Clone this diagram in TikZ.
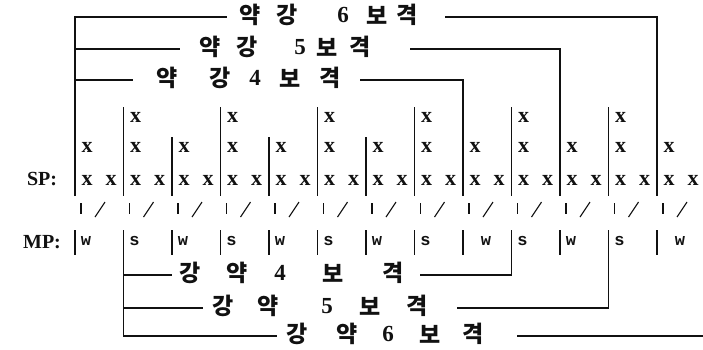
\documentclass[tikz,border=0pt]{standalone}
\usepackage{fontspec}
\usepackage{xcolor}
\usepackage{tikz}
\usetikzlibrary{positioning, calc}
\setmainfont{Liberation Serif}
\newfontfamily\krfont{Noto Sans CJK KR}
\newfontfamily\wsfont{Liberation Mono}
\definecolor{ink}{HTML}{111111}

\tikzset{
  rule/.style={draw=ink, line width=1.6pt},
  bar/.style={draw=ink, line width=1.5pt},
  tick/.style={draw=ink, line width=1.1pt},
  xmark/.style={text=ink, inner sep=0pt, font=\fontsize{22}{22}\bfseries\selectfont},
  kchar/.style={text=ink, inner sep=0pt, font=\krfont\fontsize{23}{23}\bfseries\selectfont},
  knum/.style={text=ink, inner sep=0pt, font=\fontsize{23}{23}\bfseries\selectfont},
  mpchar/.style={text=ink, inner sep=0pt, font=\wsfont\fontsize{17}{17}\bfseries\selectfont},
  rowtag/.style={text=ink, inner sep=0pt, font=\fontsize{20}{20}\bfseries\selectfont}
}

\begin{document}
\begin{tikzpicture}[x=1pt, y=-1pt]
    \useasboundingbox (0,0) rectangle (703,349);

    % row names
    \node[rowtag] (sp) at (42,179) {SP:};
    \node[rowtag] (mp) at (42,242) {MP:};

    % grid: one column per bar
    \foreach \k in {0,...,12} {
      \pgfmathsetmacro\x{75+48.5*\k}
      \coordinate (c\k) at (\x,0);
      \draw[bar] (\x,137) -- (\x,196);
      \draw[bar] (\x,230) -- (\x,255);
      \draw[tick] (\x+6,203) -- (\x+6,214);
      \draw[tick] (\x+20,217) -- (\x+30,202);
      \node[xmark] (m\k) at (\x+12,147) {x};
      \node[xmark] (s\k a) at (\x+12,180) {x};
      \node[xmark] (s\k b) at (\x+36,180) {x};
    }
    \foreach \k in {1,3,...,11} {
      \pgfmathsetmacro\x{75+48.5*\k}
      \draw[bar] (\x,107) -- (\x,137);
      \node[xmark] (h\k) at (\x+12,117) {x};
    }

    % MP letters
    \foreach \k/\l/\d in {0/w/11,1/s/11,2/w/11,3/s/11,4/w/11,5/s/11,6/w/11,
                          7/s/11,8/w/23,9/s/11,10/w/11,11/s/11,12/w/23}
      \node[mpchar] (p\k) at ($(c\k)+(\d,241)$) {\l};

    % upper brackets (iambic)
    \foreach \c/\x [count=\i] in {약/250,강/287,보/377,격/407}
      \node[kchar] (a6c\i) at (\x,15) {\c};
    \node[knum] (a6n) at (343,15) {6};
    \foreach \c/\x [count=\i] in {약/210,강/247,보/327,격/360}
      \node[kchar] (a5c\i) at (\x,47) {\c};
    \node[knum] (a5n) at (300,47) {5};
    \foreach \c/\x [count=\i] in {약/167,강/220,보/290,격/330}
      \node[kchar] (a4c\i) at (\x,78) {\c};
    \node[knum] (a4n) at (255,78) {4};

    \coordinate (a6w) at (227,17);
    \coordinate (a6e) at (445,17);
    \coordinate (a5w) at (180,49);
    \coordinate (a5e) at (410,49);
    \coordinate (a4w) at (133,80);
    \coordinate (a4e) at (360,80);

    \draw[rule] ($(c0)+(0,196)$) -- (c0 |- a6w) -- (a6w);
    \draw[rule] (c0 |- a5w) -- (a5w);
    \draw[rule] (c0 |- a4w) -- (a4w);
    \draw[rule] (a6e) -- (c12 |- a6e) -- ($(c12)+(0,196)$);
    \draw[rule] (a5e) -- (c10 |- a5e) -- ($(c10)+(0,196)$);
    \draw[rule] (a4e) -- (c8 |- a4e) -- ($(c8)+(0,196)$);

    % lower brackets (trochaic)
    \foreach \c/\x [count=\i] in {강/190,약/237,보/333,격/393}
      \node[kchar] (b4c\i) at (\x,273) {\c};
    \node[knum] (b4n) at (280,273) {4};
    \foreach \c/\x [count=\i] in {강/223,약/268,보/370,격/417}
      \node[kchar] (b5c\i) at (\x,306) {\c};
    \node[knum] (b5n) at (327,306) {5};
    \foreach \c/\x [count=\i] in {강/297,약/347,보/430,격/473}
      \node[kchar] (b6c\i) at (\x,334) {\c};
    \node[knum] (b6n) at (388,334) {6};

    \coordinate (b4w) at (172,275);
    \coordinate (b4e) at (420,275);
    \coordinate (b5w) at (203,308);
    \coordinate (b5e) at (457,308);
    \coordinate (b6w) at (277,336);
    \coordinate (b6e) at (517,336);
    \coordinate (b6end) at (703,336);

    \draw[rule] ($(c1)+(0,255)$) -- (c1 |- b6w) -- (b6w);
    \draw[rule] (c1 |- b5w) -- (b5w);
    \draw[rule] (c1 |- b4w) -- (b4w);
    \draw[rule] (b4e) -- (c9 |- b4e) -- ($(c9)+(0,255)$);
    \draw[rule] (b5e) -- (c11 |- b5e) -- ($(c11)+(0,255)$);
    \draw[rule] (b6e) -- (b6end);
\end{tikzpicture}
\end{document}
